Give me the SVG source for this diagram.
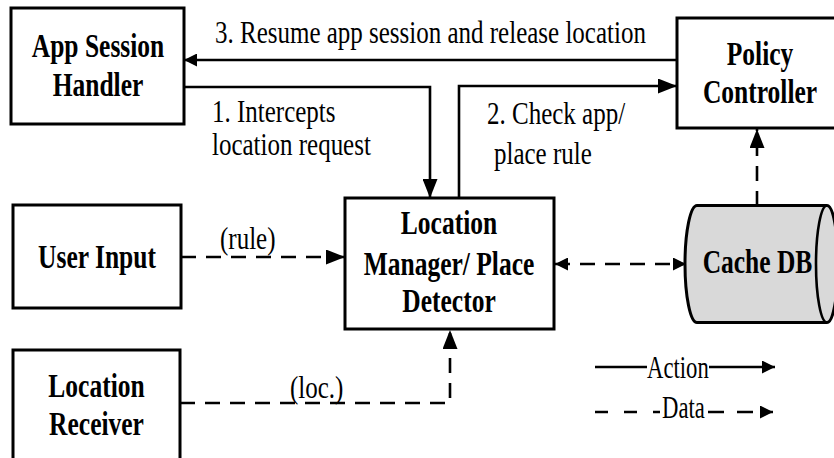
<svg xmlns="http://www.w3.org/2000/svg" width="834" height="458" viewBox="0 0 834 458">
  <style>
    .box { fill: #ffffff; stroke: #000000; stroke-width: 3; }
    .db { fill: #d9d9d9; stroke: #000000; stroke-width: 3; }
    .ln { fill: none; stroke: #000000; stroke-width: 2.6; }
    .dash { stroke-dasharray: 15 10; }
    .b { font-family: "Liberation Serif", "Times New Roman", serif; font-weight: bold; font-size: 25.5px; text-anchor: middle; fill: #000000; }
    .r { font-family: "Liberation Serif", "Times New Roman", serif; font-size: 25px; fill: #000000; }
    .lg { font-family: "Liberation Serif", "Times New Roman", serif; font-size: 22.7px; fill: #000000; }
  </style>
  <defs>
    <marker id="headS" markerUnits="userSpaceOnUse" markerWidth="14" markerHeight="13" refX="13" refY="6.5" orient="auto-start-reverse">
      <path d="M0,0 L13,6.5 L0,13 Z" fill="#000000"/>
    </marker>
    <marker id="headL" markerUnits="userSpaceOnUse" markerWidth="20" markerHeight="15" refX="19" refY="7.5" orient="auto-start-reverse">
      <path d="M0,0 L19,7.5 L0,15 Z" fill="#000000"/>
    </marker>
  </defs>

  <rect width="834" height="458" fill="#ffffff"/>

  <!-- connectors -->
  <g id="connectors">
    <path class="ln" d="M677,60 H184" marker-end="url(#headS)"/>
    <path class="ln" d="M184,87 H430 V198" marker-end="url(#headL)"/>
    <path class="ln" d="M459,198 V86 H677" marker-end="url(#headL)"/>
    <path class="ln dash" d="M181,257 H345" marker-end="url(#headL)"/>
    <path class="ln dash" d="M555,264 H686" marker-start="url(#headS)" marker-end="url(#headS)"/>
    <path class="ln dash" d="M180,403 H450 V330" marker-end="url(#headL)"/>
    <path class="ln dash" d="M757,206 V129" marker-end="url(#headL)"/>
  </g>

  <!-- labels on connectors -->
  <g id="connector-labels">
    <text class="r" transform="translate(215,43) scale(1,1.25)">3. Resume app session and release location</text>
    <text class="r" transform="translate(212,122) scale(1,1.25)">1. Intercepts</text>
    <text class="r" transform="translate(212,155) scale(1,1.25)">location request</text>
    <text class="r" transform="translate(487,124) scale(1,1.25)">2. Check app/</text>
    <text class="r" transform="translate(494,164) scale(1,1.25)">place rule</text>
    <text class="r" transform="translate(220,249) scale(1,1.25)">(rule)</text>
    <text class="r" transform="translate(290,398) scale(1,1.25)">(loc.)</text>
  </g>

  <g id="app-session-handler">
    <rect class="box" x="11" y="8" width="173" height="116"/>
    <text class="b" transform="translate(98,57) scale(1,1.3)">App Session</text>
    <text class="b" transform="translate(98,96) scale(1,1.3)">Handler</text>
  </g>

  <g id="policy-controller">
    <rect class="box" x="677" y="18" width="168" height="110"/>
    <text class="b" transform="translate(760,65) scale(1,1.3)">Policy</text>
    <text class="b" transform="translate(760,103) scale(1,1.3)">Controller</text>
  </g>

  <g id="user-input">
    <rect class="box" x="13" y="205" width="168" height="103"/>
    <text class="b" transform="translate(97,268) scale(1,1.3)">User Input</text>
  </g>

  <g id="location-receiver">
    <rect class="box" x="13" y="350" width="167" height="120"/>
    <text class="b" transform="translate(96.5,397) scale(1,1.3)">Location</text>
    <text class="b" transform="translate(96.5,435) scale(1,1.3)">Receiver</text>
  </g>

  <g id="location-manager">
    <rect class="box" x="345" y="198" width="209" height="131"/>
    <text class="b" transform="translate(449,234) scale(1,1.3)">Location</text>
    <text class="b" transform="translate(449,275) scale(1,1.3)">Manager/ Place</text>
    <text class="b" transform="translate(449,312) scale(1,1.3)">Detector</text>
  </g>

  <g id="cache-db">
    <path class="db" d="M697,205.5 H827 A11,58.5 0 0 1 827,322.5 H697 A12,58.5 0 0 1 697,205.5 Z"/>
    <path class="ln" stroke-width="3" d="M827,205.5 A11,58.5 0 0 0 827,322.5"/>
    <text class="b" transform="translate(757.5,273) scale(1,1.3)">Cache DB</text>
  </g>

  <g id="legend">
    <path class="ln" d="M595,367 H647"/>
    <text class="lg" transform="translate(647,378) scale(1,1.4)">Action</text>
    <path class="ln" d="M709,367 H775" marker-end="url(#headS)"/>
    <path class="ln" stroke-dasharray="13 16" d="M595,412 H660"/>
    <text class="lg" transform="translate(662,418) scale(1,1.4)">Data</text>
    <path class="ln" stroke-dasharray="16 13" d="M708,412 H773" marker-end="url(#headS)"/>
  </g>
</svg>
